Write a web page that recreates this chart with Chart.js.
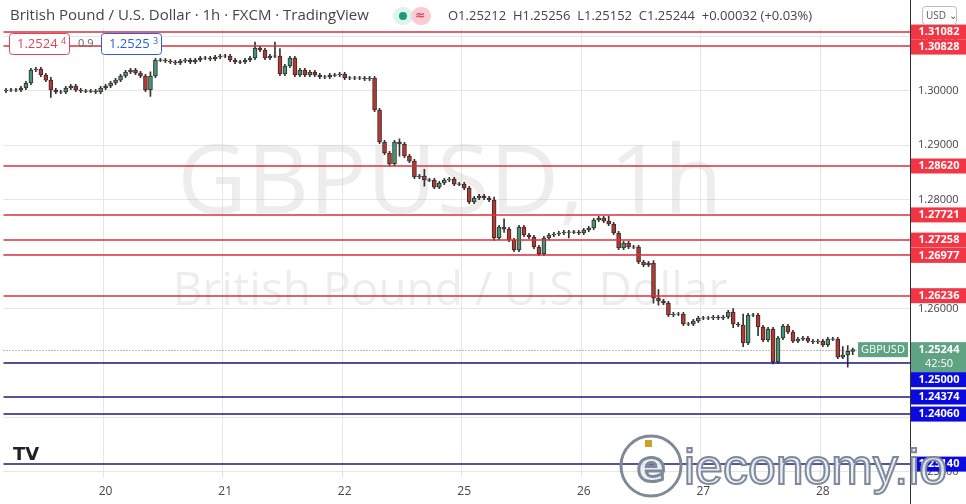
<!DOCTYPE html>
<html>
<head>
<meta charset="utf-8">
<script src="https://cdn.jsdelivr.net/npm/chart.js@4"></script>
<style>
  html, body { margin: 0; padding: 0; background: #fff; }
  #wrap { width: 966px; height: 504px; position: relative; }
</style>
</head>
<body>
<div id="wrap"><canvas id="chart" width="966" height="504"></canvas></div>
<script>
// Hourly closes GBPUSD, open = previous close
const closes = [
  1.30017, 1.30017, 1.30017, 1.30053, 1.30145, 1.30384, 1.30403, 1.30292, 1.30200, 1.30017,
  1.29980, 1.29980, 1.30053, 1.30090, 1.30017, 1.29998, 1.29998, 1.29998, 1.29980, 1.30053,
  1.30090, 1.30145, 1.30200, 1.30274, 1.30348, 1.30384, 1.30329, 1.30274, 1.30017, 1.30274,
  1.30568, 1.30568, 1.30550, 1.30531, 1.30513, 1.30550, 1.30568, 1.30531, 1.30568, 1.30605,
  1.30605, 1.30587, 1.30623, 1.30642, 1.30642, 1.30568, 1.30531, 1.30531, 1.30568, 1.30605,
  1.30789, 1.30752, 1.30605, 1.30642, 1.30642, 1.30311, 1.30458, 1.30605, 1.30292, 1.30384,
  1.30292, 1.30348, 1.30292, 1.30256, 1.30256, 1.30292, 1.30292, 1.30311, 1.30238, 1.30238,
  1.30238, 1.30238, 1.30219, 1.30238, 1.29649, 1.29061, 1.28859, 1.28656, 1.29061, 1.29024,
  1.28803, 1.28711, 1.28417, 1.28436, 1.28362, 1.28362, 1.28233, 1.28307, 1.28362, 1.28380,
  1.28288, 1.28288, 1.28215, 1.27958, 1.28031, 1.28068, 1.28031, 1.27995, 1.27296, 1.27498,
  1.27461, 1.27259, 1.27076, 1.27498, 1.27351, 1.27315, 1.27131, 1.27002, 1.27296, 1.27351,
  1.27370, 1.27388, 1.27406, 1.27406, 1.27406, 1.27388, 1.27443, 1.27480, 1.27627, 1.27664,
  1.27609, 1.27553, 1.27388, 1.27112, 1.27204, 1.27131, 1.27131, 1.26855, 1.26800, 1.26836,
  1.26193, 1.26138, 1.26101, 1.25881, 1.25899, 1.25899, 1.25716, 1.25716, 1.25771, 1.25826,
  1.25826, 1.25826, 1.25844, 1.25826, 1.25844, 1.25936, 1.25716, 1.25697, 1.25366, 1.25881,
  1.25881, 1.25660, 1.25421, 1.25623, 1.25017, 1.25458, 1.25679, 1.25568, 1.25402, 1.25439,
  1.25458, 1.25402, 1.25384, 1.25402, 1.25329, 1.25439, 1.25439, 1.25108, 1.25145, 1.25212,
  1.25244
];
const firstOpen = 1.29998;
// candles whose wicks reach well beyond the body: [index, high, low]
const longWicks = [
  [50, 1.30900, 1.30700], [55, 1.30780, 1.30280], [54, 1.30900, 1.30620], [29, 1.30350, 1.29900],
  [9, 1.30250, 1.29880], [79, 1.29120, 1.28800], [84, 1.28560, 1.28250], [98, 1.28050, 1.27250],
  [100, 1.27650, 1.27400], [121, 1.27700, 1.27580], [130, 1.26880, 1.26100], [146, 1.26000, 1.25650],
  [148, 1.25900, 1.25300], [151, 1.25880, 1.25500], [154, 1.25560, 1.24980], [168, 1.25300, 1.25100],
  [169, 1.25320, 1.24920], [170, 1.25256, 1.25152], [131, 1.26350, 1.26060], [113, 1.27430, 1.27300]
];
const dayTicks = { 20: '20', 44: '21', 68: '22', 92: '25', 116: '26', 140: '27', 164: '28' };
const redLevels = [1.31082, 1.30828, 1.28620, 1.27721, 1.27258, 1.26977, 1.26236];
const blueLevels = [1.25000, 1.24374, 1.24060, 1.23140];
const lastPrice = 1.25244;
const slots = 182;
// price scale of the original: 1.28620 sits 166px from the top, 5440px per 1.0
const refPrice = 1.28620, refPixel = 166, pxPerUnit = 5440;

const labels = [];
const bodies = [];
const wicks = [];
const bodyColors = [];
for (let i = 0; i < slots; i++) {
    labels.push(dayTicks[i] || '');
    if (i < closes.length) {
        const o = i === 0 ? firstOpen : closes[i - 1];
        const c = closes[i];
        let hi = Math.max(o, c) + 0.0003;
        let lo = Math.min(o, c) - 0.0003;
        const w = longWicks.find(x => x[0] === i);
        if (w) { hi = Math.max(hi, w[1]); lo = Math.min(lo, w[2]); }
        const b = Math.abs(c - o) < 0.00008 ? [o - 0.00005, o + 0.00005] : [o, c];
        bodies.push(b);
        wicks.push([lo, hi]);
        bodyColors.push(c >= o ? '#3f9a72' : '#b5392f');
    } else {
        bodies.push(null);
        wicks.push(null);
        bodyColors.push('#000');
    }
}

const overlay = {
    id: 'overlay',
    beforeDatasetsDraw(chart) {
        const ctx = chart.ctx;
        ctx.save();
        ctx.fillStyle = 'rgba(190,190,190,0.28)';
        ctx.textAlign = 'center';
        ctx.textBaseline = 'middle';
        ctx.font = '96px "Open Sans", sans-serif';
        ctx.fillText('GBPUSD, 1h', 450, 186);
        ctx.font = '46px "Open Sans", sans-serif';
        ctx.fillText('British Pound / U.S. Dollar', 450, 292);
        ctx.restore();
    },
    afterDatasetsDraw(chart) {
        const ctx = chart.ctx;
        const a = chart.chartArea;
        const y = chart.scales.y;
        ctx.save();
        // level lines
        ctx.lineWidth = 1.3;
        redLevels.forEach(v => {
            ctx.strokeStyle = '#d8303e';
            const py = Math.round(y.getPixelForValue(v));
            ctx.beginPath(); ctx.moveTo(a.left, py); ctx.lineTo(a.right, py); ctx.stroke();
        });
        blueLevels.forEach(v => {
            ctx.strokeStyle = '#1a1a80';
            const py = Math.round(y.getPixelForValue(v));
            ctx.beginPath(); ctx.moveTo(a.left, py); ctx.lineTo(a.right, py); ctx.stroke();
        });
        // last price dotted
        ctx.lineWidth = 1;
        ctx.strokeStyle = '#777';
        ctx.setLineDash([1, 2]);
        const lp = Math.round(y.getPixelForValue(lastPrice)) + 0.5;
        ctx.beginPath(); ctx.moveTo(a.left, lp); ctx.lineTo(a.right, lp); ctx.stroke();
        ctx.setLineDash([]);

        // right side labels
        const tags = [];
        redLevels.forEach(v => tags.push({ v, color: '#f23645', h: 15, text: [v.toFixed(5)] }));
        blueLevels.forEach(v => tags.push({ v, color: '#0a0ae0', h: 15, text: [v.toFixed(5)] }));
        tags.push({ v: lastPrice, color: '#5fa383', h: 30, text: [lastPrice.toFixed(5), '42:50'], last: true });
        tags.sort((p, q) => q.v - p.v);
        let prevBottom = -100;
        tags.forEach(t => {
            let top = y.getPixelForValue(t.v) - 7.5;
            if (top < prevBottom) top = prevBottom;
            prevBottom = top + t.h;
            ctx.fillStyle = t.color;
            ctx.fillRect(a.right + 1, top, 55, t.h);
            ctx.fillStyle = '#fff';
            ctx.textAlign = 'center';
            ctx.textBaseline = 'middle';
            t.text.forEach((s, k) => {
                ctx.font = (k === 0 ? 'bold ' : '') + '11px "Open Sans", sans-serif';
                ctx.fillText(s, a.right + 29, top + 7.5 + k * 14);
            });
            if (t.last) {
                ctx.fillStyle = '#5fa383';
                ctx.fillRect(a.right - 52, top, 50, 15);
                ctx.fillStyle = '#fff';
                ctx.font = '11px "Open Sans", sans-serif';
                ctx.fillText('GBPUSD', a.right - 27, top + 7.5);
            }
        });

        // axis border
        ctx.lineWidth = 1;
        ctx.strokeStyle = '#333';
        ctx.beginPath(); ctx.moveTo(a.right + 0.5, 0); ctx.lineTo(a.right + 0.5, 504); ctx.stroke();

        // header
        ctx.fillStyle = 'rgba(255,255,255,0.85)';
        ctx.fillRect(0, 0, a.right, 28);
        ctx.textAlign = 'left';
        ctx.textBaseline = 'middle';
        ctx.fillStyle = '#444';
        ctx.font = '15px "Open Sans", sans-serif';
        ctx.fillText('British Pound / U.S. Dollar · 1h · FXCM · TradingView', 10, 16);
        ctx.fillStyle = '#dff3ec';
        ctx.beginPath(); ctx.roundRect(393, 7, 20, 18, 9); ctx.fill();
        ctx.fillStyle = '#f9cbd3';
        ctx.beginPath(); ctx.roundRect(411, 7, 20, 18, 9); ctx.fill();
        ctx.fillStyle = '#1a9b7a';
        ctx.beginPath(); ctx.arc(403, 16, 4, 0, Math.PI * 2); ctx.fill();
        ctx.fillStyle = '#e0405a';
        ctx.font = 'bold 12px "DejaVu Sans", sans-serif';
        ctx.fillText('≈', 415, 16);
        ctx.fillStyle = '#444';
        ctx.font = '13px "Open Sans", sans-serif';
        ctx.fillText('O1.25212  H1.25256  L1.25152  C1.25244  +0.00032 (+0.03%)', 448, 16);

        // bid / ask boxes
        ctx.fillStyle = '#fff';
        ctx.strokeStyle = '#d9485a';
        ctx.beginPath(); ctx.roundRect(9.5, 33.5, 60, 21, 3); ctx.fill(); ctx.stroke();
        ctx.strokeStyle = '#2e5bd6';
        ctx.beginPath(); ctx.roundRect(101.5, 33.5, 60, 21, 3); ctx.fill(); ctx.stroke();
        ctx.font = '13px "Open Sans", sans-serif';
        ctx.fillStyle = '#d9485a';
        ctx.fillText('1.2524', 17, 44);
        ctx.font = '9px "Open Sans", sans-serif';
        ctx.fillText('4', 61, 41);
        ctx.fillStyle = '#2e5bd6';
        ctx.font = '13px "Open Sans", sans-serif';
        ctx.fillText('1.2525', 109, 44);
        ctx.font = '9px "Open Sans", sans-serif';
        ctx.fillText('3', 153, 41);
        ctx.fillStyle = '#666';
        ctx.font = '11px "Open Sans", sans-serif';
        ctx.fillText('0.9', 78, 44);

        // currency button
        ctx.fillStyle = '#fff';
        ctx.strokeStyle = '#bbb';
        ctx.beginPath(); ctx.roundRect(922.5, 6.5, 34, 18, 3); ctx.fill(); ctx.stroke();
        ctx.fillStyle = '#555';
        ctx.font = '10px "Open Sans", sans-serif';
        ctx.fillText('USD ⌄', 926, 16);

        // TV logo
        ctx.fillStyle = '#222';
        ctx.font = 'bold 18px "DejaVu Sans", sans-serif';
        ctx.fillText('TV', 13, 455);

        // watermark logo
        ctx.lineWidth = 3;
        ctx.strokeStyle = '#7f8a99';
        ctx.fillStyle = 'rgba(235,238,245,0.92)';
        ctx.beginPath(); ctx.arc(651, 466, 30, 0, Math.PI * 2); ctx.stroke();
        ctx.font = 'bold 42px "DejaVu Sans", sans-serif';
        ctx.fillText('e', 637, 470);
        ctx.strokeText('e', 637, 470);
        ctx.font = '50px "Liberation Sans", sans-serif';
        ctx.lineWidth = 2;
        ctx.fillText('ieconomy.io', 684, 470);
        ctx.strokeText('ieconomy.io', 684, 470);
        ctx.fillStyle = '#c9a227';
        ctx.fillRect(645, 440, 7, 7);
        ctx.restore();
    }
};

const chart = new Chart(document.getElementById('chart').getContext('2d'), {
    type: 'bar',
    data: {
        labels: labels,
        datasets: [
            { data: wicks, backgroundColor: '#333', barThickness: 1, grouped: false, order: 2 },
            { data: bodies, backgroundColor: bodyColors, borderColor: '#3a2a2a', borderWidth: 1,
              borderSkipped: false, barThickness: 4, grouped: false, order: 1 }
        ]
    },
    options: {
        responsive: false,
        animation: false,
        plugins: { legend: { display: false }, tooltip: { enabled: false } },
        scales: {
            x: {
                offset: true,
                grid: {
                    color: ctx => (ctx.tick && ctx.tick.label) ? '#e6e6e6' : 'rgba(0,0,0,0)',
                    drawTicks: false
                },
                border: { display: false },
                ticks: {
                    autoSkip: false, maxRotation: 0, color: '#444', padding: 6,
                    font: { size: 12, family: 'Open Sans' }
                },
                afterFit: s => { s.height = 26; }
            },
            y: {
                position: 'right',
                min: 1.22884,
                max: 1.31671,
                afterBuildTicks: s => {
                    s.ticks = [1.23, 1.24, 1.25, 1.26, 1.27, 1.28, 1.29, 1.30, 1.31].map(v => ({ value: v }));
                },
                grid: { color: '#e6e6e6', drawTicks: false },
                border: { display: false },
                ticks: {
                    color: '#444', padding: 8, callback: v => v.toFixed(5),
                    font: { size: 11, family: 'Open Sans' }
                },
                afterFit: s => { s.width = 56; }
            }
        }
    },
    plugins: [overlay]
});

// match the original price scale to whatever plot area Chart.js laid out
const area = chart.chartArea;
chart.options.scales.y.max = refPrice + (refPixel - area.top) / pxPerUnit;
chart.options.scales.y.min = refPrice - (area.bottom - refPixel) / pxPerUnit;
chart.update();
</script>
</body>
</html>
